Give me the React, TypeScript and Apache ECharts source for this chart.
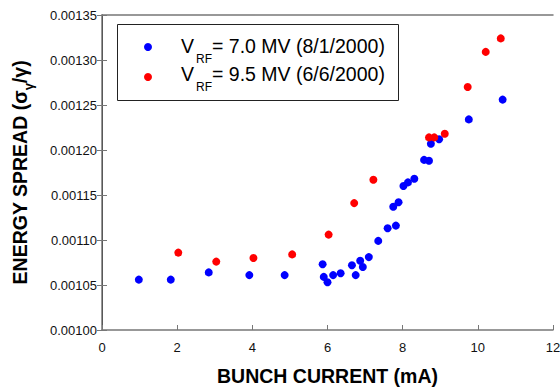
import React, { useEffect, useRef } from 'react';
import * as echarts from 'echarts';

const FONT = "Arial, 'Liberation Sans', sans-serif";

const xTicks = [0, 2, 4, 6, 8, 10, 12];
const yTickLabels = ['0.00100', '0.00105', '0.00110', '0.00115', '0.00120', '0.00125', '0.00130', '0.00135'];

const blueName = 'VRF = 7.0 MV (8/1/2000)';
const redName = 'VRF = 9.5 MV (6/6/2000)';

const blueX = [0.98, 1.83, 2.84, 3.92, 4.86, 5.87, 5.9, 6.0, 6.15, 6.35, 6.65, 6.75, 6.87, 6.94, 7.1, 7.35, 7.6, 7.82, 7.75, 7.89, 8.02, 8.14, 8.31, 8.57, 8.7, 8.75, 8.97, 9.76, 10.66];
const blueY = [0.001056, 0.001056, 0.001064, 0.001061, 0.001061, 0.001073, 0.001059, 0.001053, 0.001061, 0.001063, 0.001072, 0.001061, 0.001077, 0.00107, 0.001081, 0.001099, 0.001113, 0.001116, 0.001137, 0.001142, 0.00116, 0.001164, 0.001168, 0.001189, 0.001188, 0.001207, 0.001212, 0.001234, 0.001256];

const redX = [2.03, 3.04, 4.03, 5.06, 6.03, 6.71, 7.22, 8.7, 8.84, 9.12, 9.73, 10.21, 10.61];
const redY = [0.001086, 0.001076, 0.00108, 0.001084, 0.001106, 0.001141, 0.001167, 0.001214, 0.001214, 0.001218, 0.00127, 0.001309, 0.001324];

const zip = (xs: number[], ys: number[]) => xs.map((x, i) => [x, ys[i]]);

export default function App() {
  const ref = useRef<HTMLDivElement>(null);
  useEffect(() => {
    if (!ref.current) return;
    const chart = echarts.init(ref.current, undefined, { renderer: 'svg' });
    const gray = '#777';
    const bigFont = 19.5;
    const legendRow = (y: number, my: number, color: string, rest: string) => [
      { type: 'circle', shape: { cx: 148, cy: my, r: 4 }, style: { fill: color } },
      { type: 'text', x: 181, y, style: { text: 'V', font: `${bigFont}px ${FONT}`, fill: '#000', textVerticalAlign: 'middle' } },
      { type: 'text', x: 196, y: y + 13, style: { text: 'RF', font: `12px ${FONT}`, fill: '#000', textVerticalAlign: 'middle' } },
      { type: 'text', x: 212, y, style: { text: rest, font: `${bigFont}px ${FONT}`, fill: '#000', textVerticalAlign: 'middle' } },
    ];
    chart.setOption({
      animation: false,
      backgroundColor: '#fff',
      grid: { left: 102, right: 7, top: 15, bottom: 58, containLabel: false, outerBoundsMode: 'none' },
      xAxis: [
        {
          type: 'value', min: xTicks[0], max: xTicks[xTicks.length - 1], interval: 2, position: 'bottom',
          axisLine: { lineStyle: { color: gray, width: 1.5 } },
          axisTick: { inside: true, length: 5, lineStyle: { color: gray } },
          axisLabel: { fontSize: 13, color: '#111', margin: 11, fontFamily: FONT },
          splitLine: { show: false },
          name: 'BUNCH CURRENT (mA)', nameLocation: 'middle', nameGap: 36,
          nameTextStyle: { fontSize: bigFont, fontWeight: 'bold', color: '#000', fontFamily: FONT },
        },
        {
          type: 'value', min: 0, max: 12, interval: 2, position: 'top',
          axisLine: { lineStyle: { color: gray, width: 1.5 } },
          axisTick: { show: false }, axisLabel: { show: false }, splitLine: { show: false },
        },
      ],
      yAxis: [
        {
          type: 'value', min: 0.001, max: 0.00135, interval: 0.00005, position: 'left',
          axisLine: { show: true, lineStyle: { color: '#000', width: 1 } },
          axisTick: { show: true, inside: true, length: 5, lineStyle: { color: gray } },
          axisLabel: {
            fontSize: 13, color: '#111', margin: 5, fontFamily: FONT,
            formatter: (v: number) => yTickLabels[Math.round((v - 0.001) / 0.00005)] ?? v.toFixed(5),
          },
          splitLine: { show: false },
          name: '{a|ENERGY SPREAD (σ}{s|γ}{a|/γ)}', nameLocation: 'middle', nameGap: 67,
          nameTextStyle: {
            rich: {
              a: { fontSize: bigFont, fontWeight: 'bold', color: '#000', fontFamily: FONT, lineHeight: 30 },
              s: { fontSize: 13, fontWeight: 'bold', color: '#000', fontFamily: FONT, lineHeight: 10, verticalAlign: 'bottom' },
            },
          },
        },
        {
          type: 'value', min: 0.001, max: 0.00135, interval: 0.00005, position: 'right',
          axisLine: { show: true, lineStyle: { color: gray, width: 1.5 } },
          axisTick: { show: true, inside: true, length: 5, lineStyle: { color: gray } },
          axisLabel: { show: false }, splitLine: { show: false },
        },
      ],
      series: [
        { name: blueName, type: 'scatter', symbolSize: 8, itemStyle: { color: '#0000ff', opacity: 1 }, data: zip(blueX, blueY) },
        { name: redName, type: 'scatter', symbolSize: 8, itemStyle: { color: '#ff0000', opacity: 1 }, data: zip(redX, redY) },
      ],
      graphic: [
        { type: 'rect', shape: { x: 117.5, y: 24.5, width: 281, height: 76 }, style: { fill: '#fff', stroke: '#222', lineWidth: 1 } },
        ...legendRow(46, 47, '#0000ff', '= 7.0 MV (8/1/2000)'),
        ...legendRow(74, 77, '#ff0000', '= 9.5 MV (6/6/2000)'),
      ],
    });
    return () => chart.dispose();
  }, []);
  return <div ref={ref} style={{ width: 560, height: 388, position: 'absolute', left: 0, top: 0 }} />;
}
